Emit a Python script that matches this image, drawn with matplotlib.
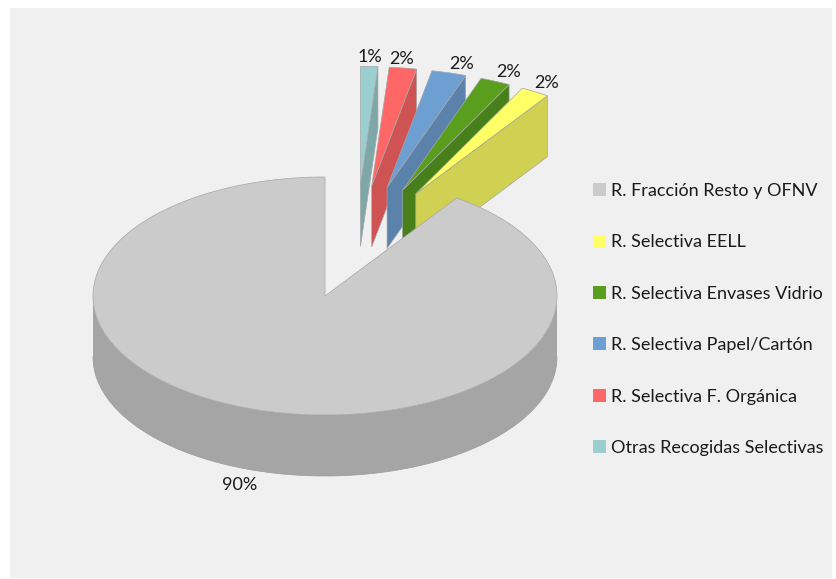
import matplotlib
matplotlib.use('Agg')
import matplotlib.pyplot as plt
from matplotlib.patches import Patch, Rectangle
import numpy as np

categories = ['R. Fracción Resto y OFNV', 'R. Selectiva EELL', 'R. Selectiva Envases Vidrio',
              'R. Selectiva Papel/Cartón', 'R. Selectiva F. Orgánica', 'Otras Recogidas Selectivas']
shares = [90.4, 2.0, 2.1, 2.4, 1.9, 1.2]

top_colors = ['#cbcbcb', '#ffff66', '#5a9e1e', '#6e9fd2', '#ff6666', '#9bcfcf']
side_colors = ['#a5a5a5', '#d0d053', '#47801a', '#5a82ab', '#cf5353', '#7ea8a8']

# pixel layout of the fake 3d pie
cx, cy = 325, 296
rx, ry = 232, 119
depth = 61
label_pos = [(240, 485), (547, 83), (509, 72), (462, 64), (402, 59), (370, 57)]


def point(angle, r=1.0, ox=0.0, oy=0.0):
    # angle in degrees, clockwise from 12 o'clock
    a = np.radians(angle)
    return cx + rx * (ox + r * np.sin(a)), cy - ry * (oy + r * np.cos(a))


fig = plt.figure(figsize=(8.37, 5.79), dpi=100)
fig.patch.set_facecolor('white')
ax = fig.add_axes([0, 0, 1, 1])
ax.set_xlim(0, 837)
ax.set_ylim(579, 0)
ax.axis('off')
ax.add_patch(Rectangle((10, 8), 822, 570, facecolor='#f0f0f0', edgecolor='none'))

# slices run counter clockwise from the top, first one is the big grey one
ends = 360 - np.cumsum(shares) * 3.6
starts = np.concatenate(([360.0], ends[:-1]))
edge = dict(edgecolor='#a6a6a6', linewidth=0.5)

for i in range(len(shares) - 1, 0, -1):
    lo, hi = ends[i], starts[i]
    mid = np.radians((lo + hi) / 2)
    ox = 0.134 + 0.5 * np.sin(mid)
    oy = 0.43 + 0.5 * np.cos(mid)
    ax0, ay0 = point(0, 0, ox, oy)
    bx, by = point(hi, 1, ox, oy)
    ax.fill([ax0, bx, bx, ax0], [ay0, by, by + depth, ay0 + depth],
            facecolor=side_colors[i], **edge)
    arc = np.linspace(lo, hi, 12)
    ax_arc, ay_arc = point(arc, 1, ox, oy)
    ax.fill(np.r_[ax0, ax_arc], np.r_[ay0, ay_arc], facecolor=top_colors[i], **edge)

# big slice: front wall, then top
front = np.linspace(90, 270, 120)
fx, fy = point(front)
ax.fill(np.r_[fx, fx[::-1]], np.r_[fy, fy[::-1] + depth], facecolor=side_colors[0], edgecolor='none')
ax.plot(fx, fy + depth, color='#9a9a9a', lw=0.5)
arc = np.linspace(360 - shares[0] * 3.6, 360, 300)
tx, ty = point(arc)
ax.fill(np.r_[cx, tx], np.r_[cy, ty], facecolor=top_colors[0], **edge)

for value, (lx, ly) in zip(shares, label_pos):
    ax.text(lx, ly, f'{round(value)}%', ha='center', va='center', fontsize=13,
            family='Lato', color='#1a1a1a')

handles = [Patch(facecolor=c, edgecolor='none') for c in top_colors]
ax.legend(handles, categories, loc='upper left', bbox_to_anchor=(593 / 837, 1 - 183 / 579),
          frameon=False, borderpad=0, borderaxespad=0, handlelength=0.72, handleheight=0.72,
          handletextpad=0.28, labelspacing=1.96, labelcolor='#1a1a1a',
          prop={'family': 'Lato', 'size': 13})

plt.savefig('out.png', dpi=100)
